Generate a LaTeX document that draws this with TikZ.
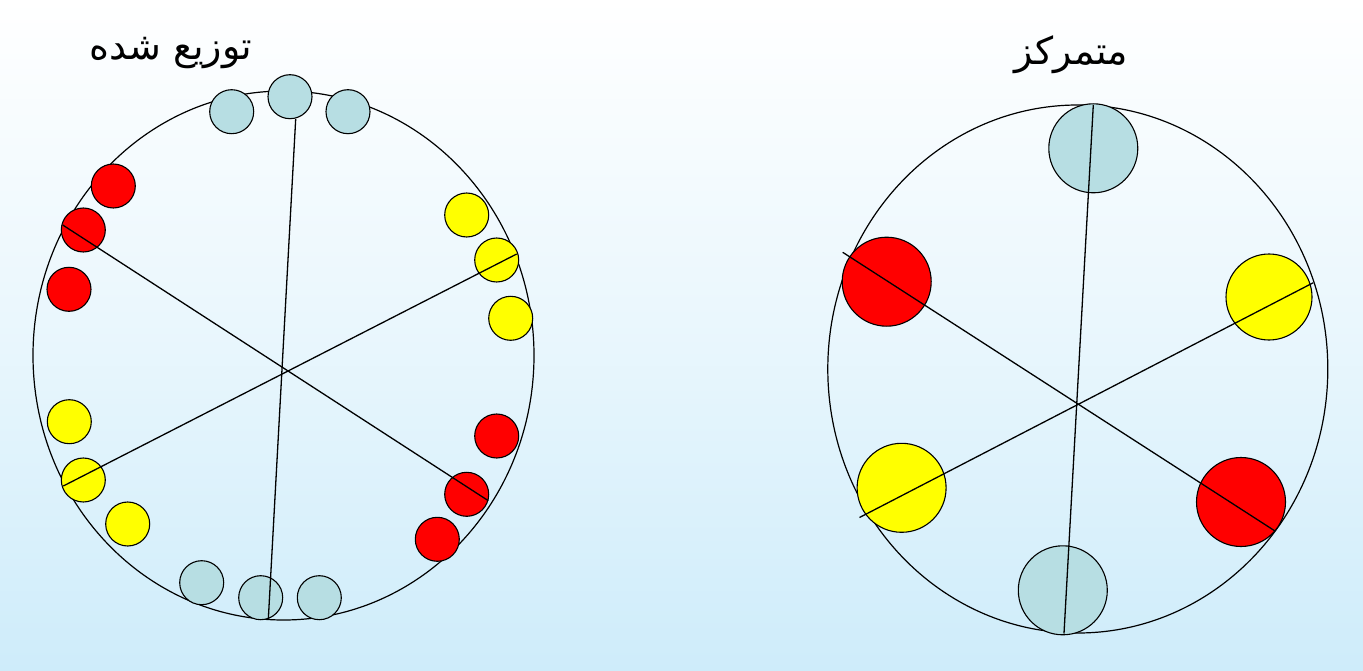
\documentclass[tikz,border=0pt]{standalone}
\usepackage{fontspec}
\newfontfamily\arabicfont[Script=Arabic]{DejaVu Sans}
\TeXXeTstate=1
\definecolor{bgblue}{RGB}{206,236,250}
\definecolor{ltblue}{RGB}{183,222,227}
\definecolor{myred}{RGB}{255,0,0}
\definecolor{myyellow}{RGB}{255,255,0}
\begin{document}
\begin{tikzpicture}[x=1pt,y=-1pt,
  big/.style={draw=black,line width=1.2pt},
  spoke/.style={draw=black,line width=1.3pt},
  dot/.style={circle,draw=black,line width=1.1pt,inner sep=0pt},
  sdot/.style={dot,minimum size=44pt},
  ldot/.style={dot,minimum size=89pt},
  bluedot/.style={fill=ltblue},
  reddot/.style={fill=myred},
  yeldot/.style={fill=myyellow},
  title/.style={inner sep=0pt,font=\arabicfont\fontsize{38}{44}\selectfont}]
\useasboundingbox (0,0) rectangle (1363,671);
\shade[top color=white,bottom color=bgblue,middle color=white!55!bgblue] (0,0) rectangle (1363,671);
% titles
\node[title] (tl) at (171,53) {\beginR توزیع شده\endR};
\node[title] (tr) at (1071,55) {\beginR متمرکز\endR};
% left big ellipse
\coordinate (L) at (283.5,355.5);
\draw[big] (L) ellipse [x radius=250.5pt, y radius=264.5pt];
% left small circles
\node[sdot,bluedot] (lb1) at (231.7,111.7) {};
\node[sdot,bluedot] (lb2) at (290,96.7) {};
\node[sdot,bluedot] (lb3) at (348,111.7) {};
\node[sdot,reddot] (lr1) at (113.3,186) {};
\node[sdot,reddot] (lr2) at (83.3,230) {};
\node[sdot,reddot] (lr3) at (69,289.3) {};
\node[sdot,yeldot] (ly1) at (466.7,215) {};
\node[sdot,yeldot] (ly2) at (496.7,260) {};
\node[sdot,yeldot] (ly3) at (510.7,318.3) {};
\node[sdot,yeldot] (ly4) at (69.3,421.7) {};
\node[sdot,yeldot] (ly5) at (83.3,480) {};
\node[sdot,yeldot] (ly6) at (127.7,524) {};
\node[sdot,reddot] (lr4) at (496.7,436) {};
\node[sdot,reddot] (lr5) at (466.7,494.3) {};
\node[sdot,reddot] (lr6) at (437.3,539.3) {};
\node[sdot,bluedot] (lb4) at (201.7,582.7) {};
\node[sdot,bluedot] (lb5) at (260.7,597.7) {};
\node[sdot,bluedot] (lb6) at (319.3,597.7) {};
% left spokes
\coordinate (lv1) at (295.7,119);
\coordinate (lv2) at (268.3,619.5);
\coordinate (lra) at (62.7,225);
\coordinate (lrb) at (488.3,500.7);
\coordinate (lya) at (516.7,254);
\coordinate (lyb) at (63.3,486);
\draw[spoke] (lv1) -- (lv2);
\draw[spoke] (lra) -- (lrb);
\draw[spoke] (lya) -- (lyb);
% right big ellipse
\coordinate (R) at (1077.8,369);
\draw[big] (R) ellipse [x radius=250pt, y radius=264pt];
% right circles
\node[ldot,bluedot] (rb1) at (1093.3,148.3) {};
\node[ldot,reddot] (rr1) at (886.7,281.7) {};
\node[ldot,yeldot,minimum size=86pt] (ry1) at (1269,297) {};
\node[ldot,yeldot] (ry2) at (901.6,487.8) {};
\node[ldot,reddot] (rr2) at (1241,502) {};
\node[ldot,bluedot] (rb2) at (1062.8,590.3) {};
% right spokes
\coordinate (rv1) at (1093.3,105);
\coordinate (rv2) at (1064,633.5);
\coordinate (rra) at (842.7,252.3);
\coordinate (rrb) at (1275,531);
\coordinate (rya) at (1313.3,282.7);
\coordinate (ryb) at (859.5,517.5);
\draw[spoke] (rv1) -- (rv2);
\draw[spoke] (rra) -- (rrb);
\draw[spoke] (rya) -- (ryb);
\end{tikzpicture}
\end{document}
